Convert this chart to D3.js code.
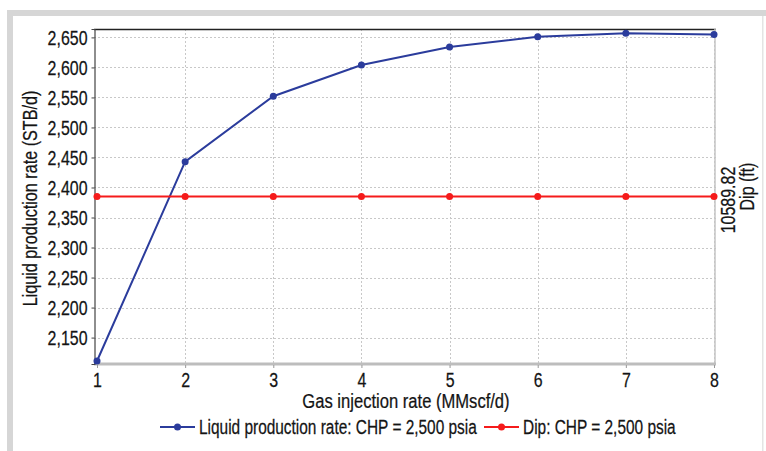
<!DOCTYPE html>
<html>
<head>
<meta charset="utf-8">
<script src="https://cdn.jsdelivr.net/npm/d3@7"></script>
<style>
  html, body { margin: 0; padding: 0; background: #fff; }
  svg { display: block; }
  text { font-family: "Liberation Sans", Arial, sans-serif; fill: #141414; stroke: #141414; stroke-width: 0.25px; }
</style>
</head>
<body>
<svg id="chart" width="766" height="451"></svg>
<script>
// Gas-lift performance: liquid rate vs. gas injection, with constant dip depth
const gasRate = [1, 2, 3, 4, 5, 6, 7, 8];
const liquidRate = [2111, 2443, 2552, 2604, 2634, 2651, 2657, 2655];
const dipDepth = [10589.82, 10589.82, 10589.82, 10589.82, 10589.82, 10589.82, 10589.82, 10589.82];
const yTicks = [2150, 2200, 2250, 2300, 2350, 2400, 2450, 2500, 2550, 2600, 2650];
const xTicks = [1, 2, 3, 4, 5, 6, 7, 8];
const dipTicks = [10589.82];

const blue = "#2b3c9c";
const red = "#f51b1b";
const FONT = 21;
const NARROW = 0.76; // condensed look for the labels

const svg = d3.select("#chart");

// outer panel frame
svg.append("rect").attr("x", 7).attr("y", 10).attr("width", 766).attr("height", 6).attr("fill", "#d6d6d6");
svg.append("rect").attr("x", 7).attr("y", 10).attr("width", 6).attr("height", 451).attr("fill", "#d6d6d6");
svg.append("rect").attr("x", 762).attr("y", 16).attr("width", 1.5).attr("height", 451).attr("fill", "#e4e4e4");

const plot = { left: 94, right: 716, top: 29, bottom: 364 };

const x = d3.scaleLinear().domain([1, 8]).range([97, 714]);
const y = d3.scaleLinear().domain([2106, 2664]).range([plot.bottom, plot.top]);
const yDip = d3.scaleLinear().domain([10588.82, 10590.82]).range([plot.bottom, plot.top]);

// grid
const grid = svg.append("g").attr("stroke", "#c8c8c8").attr("stroke-width", 1).attr("stroke-dasharray", "2,2");
grid.selectAll("line.h").data(yTicks).join("line")
  .attr("x1", plot.left).attr("x2", plot.right)
  .attr("y1", d => Math.round(y(d)) + 0.5).attr("y2", d => Math.round(y(d)) + 0.5);
grid.selectAll("line.v").data(xTicks.slice(1)).join("line")
  .attr("y1", plot.top).attr("y2", plot.bottom)
  .attr("x1", d => Math.round(x(d)) + 0.5).attr("x2", d => Math.round(x(d)) + 0.5);

// frame lines of the plot area
svg.append("line").attr("x1", plot.left).attr("x2", plot.right).attr("y1", plot.top + 0.5).attr("y2", plot.top + 0.5)
  .attr("stroke", "#222").attr("stroke-width", 1.5);
svg.append("line").attr("x1", plot.right - 1).attr("x2", plot.right - 1).attr("y1", plot.top).attr("y2", plot.bottom)
  .attr("stroke", "#c4c4c4").attr("stroke-width", 1.5);
svg.append("line").attr("x1", plot.left).attr("x2", plot.right).attr("y1", plot.bottom).attr("y2", plot.bottom)
  .attr("stroke", "#bdbdbd").attr("stroke-width", 3);

// left axis
const yAxis = d3.axisLeft(y).tickValues(yTicks).tickSize(3).tickPadding(4).tickFormat(d3.format(","));
const gy = svg.append("g").attr("transform", `translate(${plot.left + 0.5},0)`).call(yAxis);
gy.select(".domain").attr("stroke", "#444").attr("stroke-width", 1.2);
gy.selectAll(".tick line").attr("stroke", "#444");
gy.selectAll(".tick text").attr("font-size", FONT).attr("fill", "#141414");

// bottom axis
const xAxis = d3.axisBottom(x).tickValues(xTicks).tickSize(3).tickPadding(4).tickFormat(d3.format("d"));
const gx = svg.append("g").attr("transform", `translate(0,${plot.bottom + 1})`).call(xAxis);
gx.select(".domain").remove();
gx.selectAll(".tick line").attr("stroke", "#999");
gx.selectAll(".tick text").attr("font-size", FONT).attr("fill", "#141414");

// right axis (dip), single rotated tick label
const yDipAxis = d3.axisRight(yDip).tickValues(dipTicks).tickSize(0).tickFormat(d3.format(".2f"));
const gd = svg.append("g").attr("transform", `translate(${plot.right},0)`).call(yDipAxis);
gd.select(".domain").remove();
gd.selectAll(".tick text")
  .attr("font-size", FONT).attr("fill", "#141414")
  .attr("text-anchor", "middle")
  .attr("transform", "rotate(-90)")
  .attr("x", -3).attr("y", 19).attr("dy", "0");

// axis titles
svg.append("text").attr("transform", `translate(37,${(plot.top + plot.bottom) / 2 + 2}) rotate(-90)`)
  .attr("text-anchor", "middle").attr("font-size", FONT).attr("data-narrow", 0.77)
  .text("Liquid production rate (STB/d)");
svg.append("text").attr("transform", `translate(754,${(plot.top + plot.bottom) / 2 - 10}) rotate(-90)`)
  .attr("text-anchor", "middle").attr("font-size", FONT).text("Dip (ft)");
svg.append("text").attr("x", 406).attr("y", 408).attr("data-narrow", 0.79)
  .attr("text-anchor", "middle").attr("font-size", FONT).text("Gas injection rate (MMscf/d)");

// series
const liquidLine = d3.line().x((d, i) => x(gasRate[i])).y(d => y(d));
svg.append("path").datum(liquidRate).attr("d", liquidLine)
  .attr("fill", "none").attr("stroke", blue).attr("stroke-width", 2);
svg.selectAll("circle.liq").data(liquidRate).join("circle")
  .attr("cx", (d, i) => x(gasRate[i])).attr("cy", d => y(d)).attr("r", 3.5).attr("fill", blue);

const dipLine = d3.line().x((d, i) => x(gasRate[i])).y(d => yDip(d));
svg.append("path").datum(dipDepth).attr("d", dipLine)
  .attr("fill", "none").attr("stroke", red).attr("stroke-width", 2);
svg.selectAll("circle.dip").data(dipDepth).join("circle")
  .attr("cx", (d, i) => x(gasRate[i])).attr("cy", d => yDip(d)).attr("r", 3.5).attr("fill", red);

// legend
const legend = [
  { label: "Liquid production rate: CHP = 2,500 psia", color: blue, x: 160 },
  { label: "Dip: CHP = 2,500 psia", color: red, x: 484 }
];
const lg = svg.append("g").selectAll("g").data(legend).join("g")
  .attr("transform", d => `translate(${d.x},427)`);
lg.append("line").attr("x1", 0).attr("x2", 35).attr("stroke", d => d.color).attr("stroke-width", 2);
lg.append("circle").attr("cx", 17.5).attr("r", 3.5).attr("fill", d => d.color);
lg.append("text").attr("x", 39).attr("dy", "0.35em").attr("font-size", FONT).attr("data-narrow", 0.735)
  .text(d => d.label);

// condense every label horizontally, scaling about its own anchor point
svg.selectAll("text").each(function () {
  const k = +(this.getAttribute("data-narrow") || NARROW);
  const ax = +(this.getAttribute("x") || 0);
  const ay = +(this.getAttribute("y") || 0);
  const base = this.getAttribute("transform") || "";
  this.setAttribute("transform",
    `${base} translate(${ax},${ay}) scale(${k},1) translate(${-ax},${-ay})`.trim());
});
</script>
</body>
</html>
